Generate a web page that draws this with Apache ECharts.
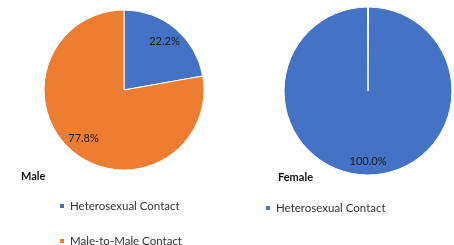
<!DOCTYPE html>
<html>
<head>
<meta charset="utf-8">
<script src="https://cdn.jsdelivr.net/npm/echarts@6/dist/echarts.min.js"></script>
<style>
  html, body { margin: 0; padding: 0; background: #fff; }
  #chart { width: 454px; height: 245px; }
</style>
</head>
<body>
<div id="chart"></div>
<script>
const maleCategories = ["Heterosexual Contact", "Male-to-Male Contact"];
const maleValues = [22.2, 77.8];
const femaleCategories = ["Heterosexual Contact"];
const femaleValues = [100.0];

const colors = { "Heterosexual Contact": "#4472C4", "Male-to-Male Contact": "#ED7D31" };
const font = "Lato, 'Open Sans', sans-serif";

const toData = (cats, vals) =>
  cats.map((name, i) => ({ name: name, value: vals[i], itemStyle: { color: colors[name] } }));

const pieBase = (data, center, radius, extra) => Object.assign({
  type: "pie",
  center: center,
  radius: radius,
  startAngle: 90,
  clockwise: true,
  data: data,
  label: { show: false },
  labelLine: { show: false },
  itemStyle: { borderColor: "#fff", borderWidth: 1 },
  emphasis: { disabled: true }
}, extra || {});

// label-only rings so that inside labels sit further out, like the original
const labelRing = (data, center, radius) => ({
  type: "pie",
  center: center,
  radius: radius,
  startAngle: 90,
  clockwise: true,
  silent: true,
  data: data.map(d => ({ name: d.name, value: d.value, itemStyle: { color: "transparent" } })),
  itemStyle: { borderWidth: 0 },
  label: {
    show: true,
    position: "inside",
    formatter: p => p.value.toFixed(1) + "%",
    color: "#1a1a1a",
    fontSize: 11,
    fontFamily: font
  },
  labelLine: { show: false },
  emphasis: { disabled: true },
  legendHoverLink: false
});

const legendItem = (name, left, top) => ({
  data: [name],
  orient: "vertical",
  left: left,
  top: top,
  itemWidth: 6,
  itemHeight: 6,
  itemGap: 4,
  icon: "rect",
  textStyle: { fontSize: 11.5, color: "#333", fontFamily: font }
});

const maleData = toData(maleCategories, maleValues);
const femaleData = toData(femaleCategories, femaleValues);

const chart = echarts.init(document.getElementById("chart"));
chart.setOption({
  animation: false,
  title: [
    { text: "Male", left: 16, top: 166, textStyle: { fontSize: 11, fontWeight: "bold", color: "#111", fontFamily: font } },
    { text: "Female", left: 273, top: 167, textStyle: { fontSize: 11, fontWeight: "bold", color: "#111", fontFamily: font } }
  ],
  legend: [
    legendItem(maleCategories[0], 53, 195),
    legendItem(maleCategories[1], 53, 230),
    legendItem(femaleCategories[0], 259, 197)
  ],
  series: [
    pieBase(maleData, [124, 90], [0, 80]),
    pieBase(femaleData, [368, 91], [0, 84], { padAngle: 0.7 }),
    labelRing(maleData, [124, 90], [40, 80]),
    labelRing(femaleData, [368, 91], [50, 84])
  ]
});
</script>
</body>
</html>
